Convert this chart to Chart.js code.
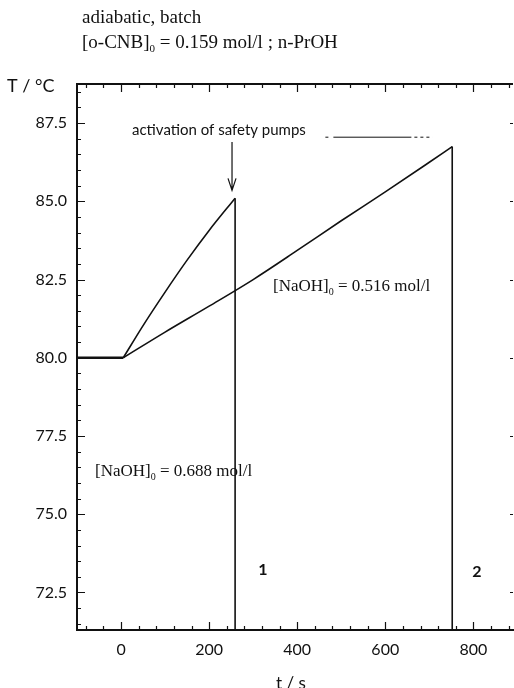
<!DOCTYPE html>
<html>
<head>
<meta charset="utf-8">
<script src="https://cdn.jsdelivr.net/npm/chart.js@4.4.1/dist/chart.umd.min.js"></script>
<style>
  html, body { margin: 0; padding: 0; background: #fff; }
</style>
</head>
<body>
<canvas id="chart" width="514" height="688"></canvas>
<script>
// axes: time in s, temperature in °C
const xTicks = [0, 200, 400, 600, 800];
const yTicks = [72.5, 75.0, 77.5, 80.0, 82.5, 85.0, 87.5];
const xRange = [-100, 890];
const yRange = [71.3, 88.75];

// common start at 80 °C
const baseTime = [-100, 5];
const baseTemp = [80.0, 80.0];

// [NaOH]0 = 0.688 mol/l, pumps switched on at ~259 s
const time1 = [5, 50, 100, 150, 200, 259];
const temp1 = [80.0, 81.03, 82.1, 83.12, 84.07, 85.1];
const drop1Time = [259, 259];
const drop1Temp = [85.1, 71.3];

// [NaOH]0 = 0.516 mol/l, pumps switched on at ~752 s
const time2 = [5, 100, 200, 300, 400, 500, 600, 700, 752];
const temp2 = [80.0, 80.82, 81.65, 82.5, 83.43, 84.38, 85.3, 86.25, 86.75];
const drop2Time = [752, 752];
const drop2Temp = [86.75, 71.3];

// dashed mark next to the label
const dashTime = [464, 707];
const dashTemp = [87.05, 87.05];

// arrow pointing at the first peak
const arrowTime = 252;
const arrowTemp = [86.9, 85.35];

const ink = '#111';
const serif = '"Liberation Serif", "Times New Roman", serif';
const sans = 'Lato, "Open Sans", sans-serif';

function pts(xs, ys) {
    return xs.map((x, i) => ({ x: x, y: ys[i] }));
}

// text with a subscript, e.g. [NaOH]0
function subText(ctx, x, y, size, family, main, sub, rest) {
    ctx.font = size + 'px ' + family;
    ctx.textAlign = 'left';
    ctx.textBaseline = 'middle';
    ctx.fillText(main, x, y);
    x += ctx.measureText(main).width;
    ctx.font = Math.round(size * 0.6) + 'px ' + family;
    ctx.fillText(sub, x, y + size * 0.3);
    x += ctx.measureText(sub).width;
    ctx.font = size + 'px ' + family;
    ctx.fillText(rest, x, y);
}

function plainText(ctx, text, x, y, font, align) {
    ctx.font = font;
    ctx.textAlign = align || 'left';
    ctx.textBaseline = 'middle';
    ctx.fillText(text, x, y);
}

const decor = {
    id: 'decor',
    afterDraw(chart) {
        const ctx = chart.ctx;
        const a = chart.chartArea;
        const xs = chart.scales.x;
        const ys = chart.scales.y;
        ctx.save();
        ctx.strokeStyle = ink;
        ctx.fillStyle = ink;

        // top frame line
        ctx.lineWidth = 2;
        ctx.beginPath();
        ctx.moveTo(a.left, a.top);
        ctx.lineTo(a.right, a.top);
        ctx.stroke();

        // inward ticks, major and minor
        ctx.lineWidth = 1.2;
        ctx.beginPath();
        for (let v = -80; v <= 880; v += 40) {
            const px = Math.round(xs.getPixelForValue(v)) + 0.5;
            const len = xTicks.includes(v) ? 8 : 4;
            ctx.moveTo(px, a.bottom);
            ctx.lineTo(px, a.bottom - len);
            ctx.moveTo(px, a.top);
            ctx.lineTo(px, a.top + len);
        }
        for (let v = 71.5; v <= 88.6; v += 0.5) {
            const py = Math.round(ys.getPixelForValue(v)) + 0.5;
            const major = yTicks.some(t => Math.abs(t - v) < 0.01);
            ctx.moveTo(a.left, py);
            ctx.lineTo(a.left + (major ? 8 : 4), py);
            if (major) {
                ctx.moveTo(a.right, py);
                ctx.lineTo(a.right - 3, py);
            }
        }
        ctx.stroke();

        // arrow
        const ax = xs.getPixelForValue(arrowTime);
        const ay0 = ys.getPixelForValue(arrowTemp[0]);
        const ay1 = ys.getPixelForValue(arrowTemp[1]);
        ctx.lineWidth = 1.2;
        ctx.beginPath();
        ctx.moveTo(ax, ay0);
        ctx.lineTo(ax, ay1);
        ctx.moveTo(ax - 4, ay1 - 12);
        ctx.lineTo(ax, ay1);
        ctx.lineTo(ax + 4, ay1 - 12);
        ctx.stroke();

        // texts
        plainText(ctx, 'adiabatic, batch', 82, 18, '19px ' + serif);
        subText(ctx, 82, 43, 19, serif, '[o-CNB]', '0', ' = 0.159 mol/l ; n-PrOH');
        plainText(ctx, 'T / °C', 7, 86, '18px ' + sans);
        plainText(ctx, 't / s', 291, 684, '17px ' + sans, 'center');
        plainText(ctx, 'activation of safety pumps', 132, 130, '15px ' + sans);
        subText(ctx, 273, 287, 17, serif, '[NaOH]', '0', ' = 0.516 mol/l');
        subText(ctx, 95, 472, 17, serif, '[NaOH]', '0', ' = 0.688 mol/l');
        plainText(ctx, '1', 263, 570, 'bold 16px ' + sans, 'center');
        plainText(ctx, '2', 477, 572, 'bold 16px ' + sans, 'center');
        ctx.restore();
    }
};

const lineStyle = {
    borderColor: ink,
    borderWidth: 1.6,
    pointRadius: 0,
    fill: false,
    borderJoinStyle: 'miter'
};

function set(label, xsArr, ysArr, extra) {
    return Object.assign({ label: label, data: pts(xsArr, ysArr) }, lineStyle, extra || {});
}

new Chart(document.getElementById('chart'), {
    type: 'line',
    data: {
        datasets: [
            set('start', baseTime, baseTemp, { borderWidth: 2.6 }),
            set('0.688 mol/l', time1, temp1, { cubicInterpolationMode: 'monotone' }),
            set('0.688 drop', drop1Time, drop1Temp),
            set('0.516 mol/l', time2, temp2, { cubicInterpolationMode: 'monotone' }),
            set('0.516 drop', drop2Time, drop2Temp),
            set('dash', dashTime, dashTemp, { borderWidth: 1, borderDash: [3, 5, 78, 3, 3, 3, 3, 3, 3, 3] })
        ]
    },
    options: {
        responsive: false,
        animation: false,
        devicePixelRatio: 1,
        layout: { padding: { left: 0, top: 84, right: 1, bottom: 0 } },
        plugins: {
            legend: { display: false },
            tooltip: { enabled: false }
        },
        scales: {
            x: {
                type: 'linear',
                min: xRange[0],
                max: xRange[1],
                afterBuildTicks: s => { s.ticks = xTicks.map(v => ({ value: v })); },
                afterFit: s => { s.height = 58; },
                grid: { display: false, drawTicks: false },
                border: { display: true, color: ink, width: 2 },
                ticks: {
                    padding: 10,
                    color: ink,
                    font: { family: sans, size: 16 },
                    maxRotation: 0,
                    callback: v => String(v)
                }
            },
            y: {
                type: 'linear',
                min: yRange[0],
                max: yRange[1],
                afterBuildTicks: s => { s.ticks = yTicks.map(v => ({ value: v })); },
                afterFit: s => { s.width = 77; },
                grid: { display: false, drawTicks: false },
                border: { display: true, color: ink, width: 2 },
                ticks: {
                    padding: 10,
                    color: ink,
                    font: { family: sans, size: 16 },
                    callback: v => v.toFixed(1)
                }
            }
        }
    },
    plugins: [decor]
});
</script>
</body>
</html>
